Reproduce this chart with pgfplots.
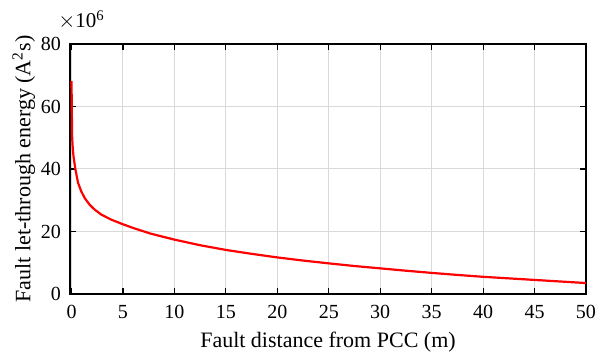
\documentclass[border=0pt]{standalone}
\usepackage{pgfplots}
\pgfplotsset{compat=1.18}
\usepackage{fontspec}
\setmainfont{Liberation Serif}
\begin{document}
\begin{tikzpicture}
\begin{axis}[
  name=ax,
  scale only axis,
  width=258pt, height=125pt,
  xmin=-0.15, xmax=50, ymin=0, ymax=80,
  xtick={0,5,...,50}, ytick={0,20,...,80},
  tick align=inside,
  major tick length=3pt,
  tick style={black, line width=0.6pt},
  axis line style={line width=0.8pt},
  grid=major,
  major grid style={gray!30, line width=0.5pt},
  /pgf/number format/assume math mode=true,
  xticklabel={\rmfamily\pgfmathprintnumber[assume math mode=true]{\tick}},
  yticklabel={\rmfamily\pgfmathprintnumber[assume math mode=true]{\tick}},
  tick label style={font=\fontsize{10}{12}\selectfont},
  label style={font=\fontsize{11}{13}\selectfont},
  xlabel={Fault distance from PCC (m)},
  ylabel={Fault let-through energy (A\textsuperscript{2}s)},
  xticklabel style={yshift=-2pt},
  yticklabel style={xshift=-1pt},
  ylabel style={yshift=-4pt},
]
\addplot[red, line width=1.1pt] coordinates {
(0,68.2) (0.02,60) (0.06,50) (0.12,46.5) (0.2,43.8) (0.37,40.0) (0.63,35.6) (0.95,32.8) (1.3,30.6) (1.75,28.6) (2.25,27.0) (2.9,25.4) (3.85,23.8) (5,22.3) (6.1,21.0) (7.7,19.3) (10,17.4) (12.5,15.6) (15,14.1) (17.5,12.85) (20,11.7) (22.5,10.7) (25,9.8) (27.5,8.95) (30,8.2) (32.5,7.45) (35,6.75) (37.5,6.1) (40,5.5) (42.5,5.0) (45,4.5) (47.5,4.0) (50,3.5)
};
\end{axis}
\node[anchor=base west, inner sep=0pt, font=\fontsize{10.5}{12}\selectfont] at ([xshift=-6pt, yshift=8pt]ax.north west) {$\times$10\textsuperscript{6}};
\pgfresetboundingbox
\useasboundingbox ([xshift=-35pt, yshift=-31pt]ax.south west) rectangle ([xshift=7pt, yshift=22pt]ax.north east);
\end{tikzpicture}
\end{document}
